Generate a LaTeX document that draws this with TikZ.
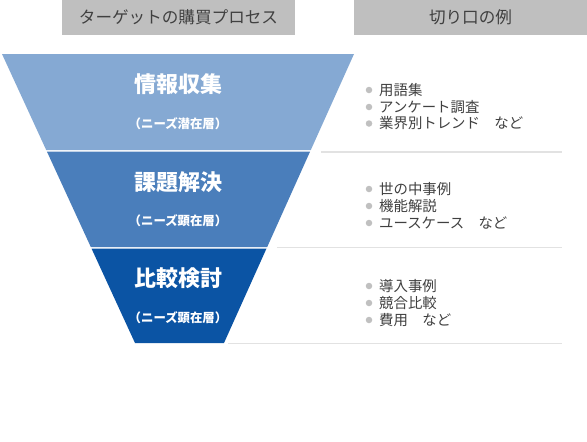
\documentclass[tikz,border=0pt]{standalone}
\usepackage{fontspec}
\setmainfont{Noto Sans CJK JP}
\definecolor{hdrgray}{HTML}{BFBFBF}
\definecolor{txtgray}{HTML}{404040}
\definecolor{lvlA}{HTML}{85A9D3}
\definecolor{lvlB}{HTML}{4A7EBB}
\definecolor{lvlC}{HTML}{0B54A4}
\definecolor{sepgray}{HTML}{E2E2E2}
\definecolor{dotgray}{HTML}{C0C0C0}
\tikzset{
  hdrbox/.style={fill=hdrgray, draw=none},
  hdrtext/.style={text=txtgray, font=\fontsize{16.6}{18}\selectfont, inner sep=0pt},
  ttl/.style={text=white, font=\bfseries\fontsize{22}{24}\selectfont, inner sep=0pt},
  subttl/.style={text=white, font=\bfseries\fontsize{12.4}{14}\selectfont, inner sep=0pt},
  item/.style={text=txtgray, font=\fontsize{14.4}{16}\selectfont, anchor=west, inner sep=0pt},
  dot/.style={circle, fill=dotgray, minimum size=6.5pt, inner sep=0pt},
  sepline/.style={draw=sepgray, line width=1.5pt}
}
\begin{document}
\begin{tikzpicture}[x=1pt,y=-1pt]
\useasboundingbox (0,0) rectangle (587,442);
\fill[white] (0,0) rectangle (587,442);
% headers
\fill[hdrbox] (62,0) rectangle (295,35);
\fill[hdrbox] (354,0) rectangle (587,35);
\node[hdrtext] (h1) at (178.5,17.5) {ターゲットの購買プロセス};
\node[hdrtext] (h2) at (470.5,17.5) {切り口の例};
% funnel
\fill[lvlA] (2,54) -- (354,54) -- (310.8,150) -- (46.2,150) -- cycle;
\fill[lvlB] (46.9,151.5) -- (310.1,151.5) -- (267.2,247) -- (90.8,247) -- cycle;
\fill[lvlC] (91.5,248.5) -- (266.5,248.5) -- (224,343) -- (135,343) -- cycle;
% separators
\draw[sepline] (321,152) -- (562,152);
\draw[sepline] (277,247.5) -- (562,247.5);
\draw[sepline] (228,343.5) -- (562,343.5);
% titles
\node[ttl] (t1) at (178,84) {情報収集};
\node[subttl] (s1) at (178,123.5) {（ニーズ潜在層）};
\node[ttl] (t2) at (178,182) {課題解決};
\node[subttl] (s2) at (178,221) {（ニーズ顕在層）};
\node[ttl] (t3) at (178,278.5) {比較検討};
\node[subttl] (s3) at (178,318) {（ニーズ顕在層）};
% items level 1
\node[dot] (d11) at (369,90) {};
\node[item] (i11) at (379,90) {用語集};
\node[dot] (d12) at (369,107) {};
\node[item] (i12) at (379,107) {アンケート調査};
\node[dot] (d13) at (369,123.5) {};
\node[item] (i13) at (379,123.5) {業界別トレンド　など};
% items level 2
\node[dot] (d21) at (369,189) {};
\node[item] (i21) at (379,189) {世の中事例};
\node[dot] (d22) at (369,206) {};
\node[item] (i22) at (379,206) {機能解説};
\node[dot] (d23) at (369,223) {};
\node[item] (i23) at (379,223) {ユースケース　など};
% items level 3
\node[dot] (d31) at (369,286) {};
\node[item] (i31) at (379,286) {導入事例};
\node[dot] (d32) at (369,303) {};
\node[item] (i32) at (379,303) {競合比較};
\node[dot] (d33) at (369,320) {};
\node[item] (i33) at (379,320) {費用　など};
\end{tikzpicture}
\end{document}
